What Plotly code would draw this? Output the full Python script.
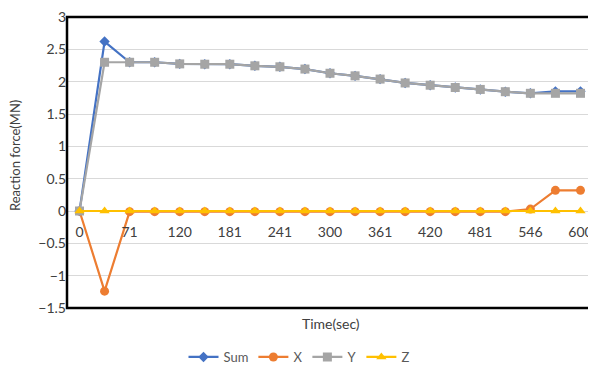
import plotly.graph_objects as go

times = ["0", "36", "71", "95", "120", "150", "181", "211", "241", "270", "300",
         "331", "361", "390", "420", "451", "481", "513", "546", "573", "600"]
tick_labels = ["0", "71", "120", "181", "241", "300", "361", "420", "481", "546", "600"]

sum_vals = [0, 2.62, 2.30, 2.30, 2.275, 2.27, 2.27, 2.245, 2.23, 2.195, 2.13,
            2.09, 2.04, 1.98, 1.945, 1.91, 1.88, 1.845, 1.82, 1.85, 1.85]
x_vals = [0, -1.24, -0.01, -0.01, -0.01, -0.01, -0.01, -0.01, -0.01, -0.01, -0.01,
          -0.01, -0.01, -0.01, -0.01, -0.01, -0.01, -0.01, 0.03, 0.32, 0.32]
y_vals = [0, 2.30, 2.30, 2.30, 2.275, 2.27, 2.27, 2.245, 2.23, 2.195, 2.13,
          2.09, 2.04, 1.98, 1.945, 1.91, 1.88, 1.845, 1.82, 1.82, 1.82]
z_vals = [0] * 21

FONT = "Lato"
TXT = "#404040"

# The page body has an 8px default margin, so the figure is drawn at (8, 8);
# sizes below compensate so the chart lands where it does in the reference.
W, H = 588, 364
L, R, T, B = 59, 3, 9, 64
PW, PH = W - L - R, H - T - B
PLOT_TOP = 8 + T
PLOT_BOTTOM = 8 + H - B

fig = go.Figure()
series = [
    ("Sum", sum_vals, "#4472C4", "diamond", 8),
    ("X", x_vals, "#ED7D31", "circle", 9),
    ("Y", y_vals, "#A5A5A5", "square", 9),
    ("Z", z_vals, "#FFC000", "triangle-up", 9),
]
for name, vals, col, sym, sz in series:
    fig.add_trace(go.Scatter(
        x=times, y=vals, name=name, mode="lines+markers",
        line=dict(color=col, width=2.2),
        marker=dict(symbol=sym, size=sz, color=col, line=dict(width=0)),
    ))

fig.update_layout(
    width=W, height=H,
    margin=dict(l=L, r=R, t=T, b=B, autoexpand=False),
    paper_bgcolor="white", plot_bgcolor="white",
    font=dict(family=FONT, size=14, color=TXT),
    showlegend=True,
    legend=dict(orientation="h", xref="container", yref="container",
                x=(299 - 8) / W, xanchor="center", y=1 - (357 - 8) / H, yanchor="middle",
                font=dict(size=13, color="#595959"),
                itemwidth=30, tracegroupgap=0),
    xaxis=dict(
        type="category", range=[-0.5, 20.5], automargin=False,
        tickmode="array", tickvals=tick_labels, ticktext=tick_labels,
        showgrid=False, zeroline=False, showline=False, ticks="",
        anchor="free", position=1.5 / 4.5, ticklabelstandoff=11,
        ticklabeloverflow="allow",
        tickfont=dict(size=14, color=TXT),
    ),
    yaxis=dict(
        range=[-1.5, 3], dtick=0.5, tickmode="linear", tick0=-1.5, automargin=False,
        showgrid=True, gridcolor="#D9D9D9", gridwidth=1,
        zeroline=False, showline=False, ticks="",
        ticklabeloverflow="allow",
        tickfont=dict(size=14, color=TXT),
    ),
    shapes=[dict(type="rect", xref="x domain", yref="y domain",
                 x0=0, x1=1, y0=0, y1=1,
                 line=dict(color="black", width=2.5), layer="above")],
    annotations=[
        dict(text="Time(sec)", xref="paper", yref="paper", x=(331 - 67) / PW,
             y=-(323 - PLOT_BOTTOM) / PH,
             xanchor="center", yanchor="middle", showarrow=False,
             font=dict(size=14, color=TXT)),
        dict(text="Reaction force(MN)", xref="paper", yref="paper", x=-(67 - 15) / PW,
             y=(PLOT_BOTTOM - 156) / PH,
             xanchor="center", yanchor="middle", textangle=-90, showarrow=False,
             font=dict(size=13, color=TXT)),
    ],
)

fig.write_html("out.html")
